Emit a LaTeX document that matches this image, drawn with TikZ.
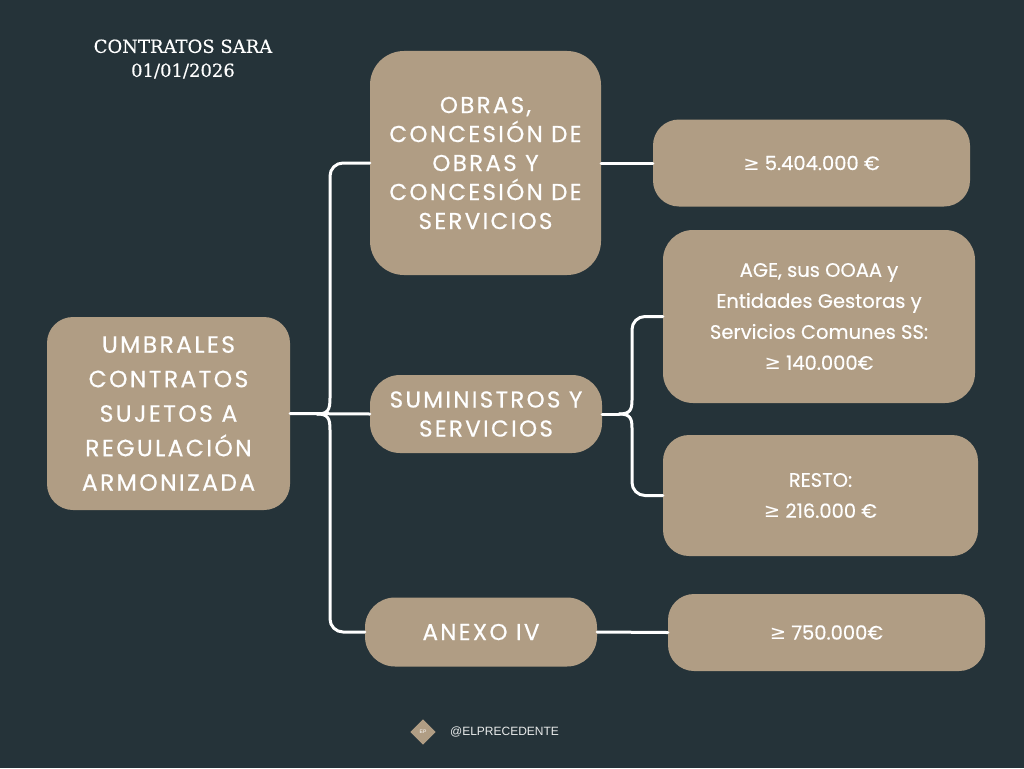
\documentclass[tikz,border=0pt]{standalone}
\usepackage{fontspec}
\setmainfont{Poppins}[FakeBold=0.4]
\newfontfamily\wide{Poppins}[LetterSpace=10, FakeBold=0.5]
\newfontfamily\slab{DejaVu Serif}[FakeBold=0.3]
\newfontfamily\foot{Liberation Sans}
\newfontfamily\symf{DejaVu Sans}
\newcommand{\gesym}{{\symf ≥}}
\definecolor{bgc}{HTML}{253339}
\definecolor{boxc}{HTML}{B09D84}
\usetikzlibrary{positioning}

\tikzset{
  box/.style = {fill=boxc, text=white, align=center, inner sep=0pt},
  link/.style = {draw=white, line width=3pt, line cap=round},
}

\begin{document}
\begin{tikzpicture} [x=1pt, y=-1pt]
        \fill [bgc] (0,0) rectangle (1024,768);
        \useasboundingbox (0,0) rectangle (1024,768);

        % title
        \node (title) at (183,59) [text=white, align=center, font=\slab\fontsize{18}{24}\selectfont] {CONTRATOS SARA\\01/01/2026};

        % boxes
        \node (root) at (168.5,413.5) [box, minimum width=243, minimum height=193, rounded corners=26,
            font=\wide\fontsize{23.5}{34.5}\selectfont] {UMBRALES\\CONTRATOS\\SUJETOS A\\REGULACIÓN\\ARMONIZADA};
        \node (obras) at (485.5,163) [box, minimum width=231, minimum height=224, rounded corners=34,
            font=\wide\fontsize{23}{29}\selectfont] {OBRAS,\\CONCESIÓN DE\\OBRAS Y\\CONCESIÓN DE\\SERVICIOS};
        \node (sumin) at (486,414) [box, minimum width=232, minimum height=78, rounded corners=30,
            font=\wide\fontsize{23}{29}\selectfont] {SUMINISTROS Y\\SERVICIOS};
        \node (anexo) at (481,632) [box, minimum width=232, minimum height=69, rounded corners=30,
            font=\wide\fontsize{23}{29}\selectfont] {ANEXO IV};

        \node (obrasv) at (811.5,163) [box, minimum width=317, minimum height=87, rounded corners=26,
            font=\fontsize{19.5}{31}\selectfont] {\gesym{} 5.404.000 €};
        \node (age) at (819,316.5) [box, minimum width=312, minimum height=173, rounded corners=30,
            font=\fontsize{19.5}{31}\selectfont] {AGE, sus OOAA y\\Entidades Gestoras y\\Servicios Comunes SS:\\\gesym{} 140.000€};
        \node (resto) at (820.5,495.5) [box, minimum width=315, minimum height=121, rounded corners=26,
            font=\fontsize{19.5}{31}\selectfont] {RESTO:\\\gesym{} 216.000 €};
        \node (anexov) at (826.5,632.5) [box, minimum width=317, minimum height=77, rounded corners=26,
            font=\fontsize{19.5}{31}\selectfont] {\gesym{} 750.000€};

        % connectors
        \coordinate (j1) at (317,414);
        \coordinate (j2) at (619,414);
        \draw [link] (root.east) -- (sumin.west);
        \draw [link] (j1) .. controls (328,414) and (330,410) .. (330,398) [rounded corners=13] -- (330,163) -- (obras.west);
        \draw [link] (j1) .. controls (328,414) and (330,418) .. (330,430) [rounded corners=13] -- (330,632) -- (anexo.west);
        \draw [link] (obras.east) -- (obrasv.west);
        \draw [link] (anexo.east) -- (anexov.west);
        \draw [link] (sumin.east) -- (j2);
        \draw [link] (j2) .. controls (630,414) and (632,410) .. (632,400) [rounded corners=13] -- (632,316.5) -- (age.west);
        \draw [link] (j2) .. controls (630,414) and (632,418) .. (632,428) [rounded corners=13] -- (632,495.5) -- (resto.west);

        % footer
        \node (logo) at (423,732) [fill=boxc, rotate=45, minimum size=18, inner sep=0pt] {};
        \node at (logo) [text=white, font=\foot\fontsize{5}{5}\selectfont] {EP};
        \node (handle) at (504.5,732) [text=white!90!bgc, font=\foot\fontsize{12}{12}\selectfont] {@ELPRECEDENTE};
    \end{tikzpicture}
\end{document}
